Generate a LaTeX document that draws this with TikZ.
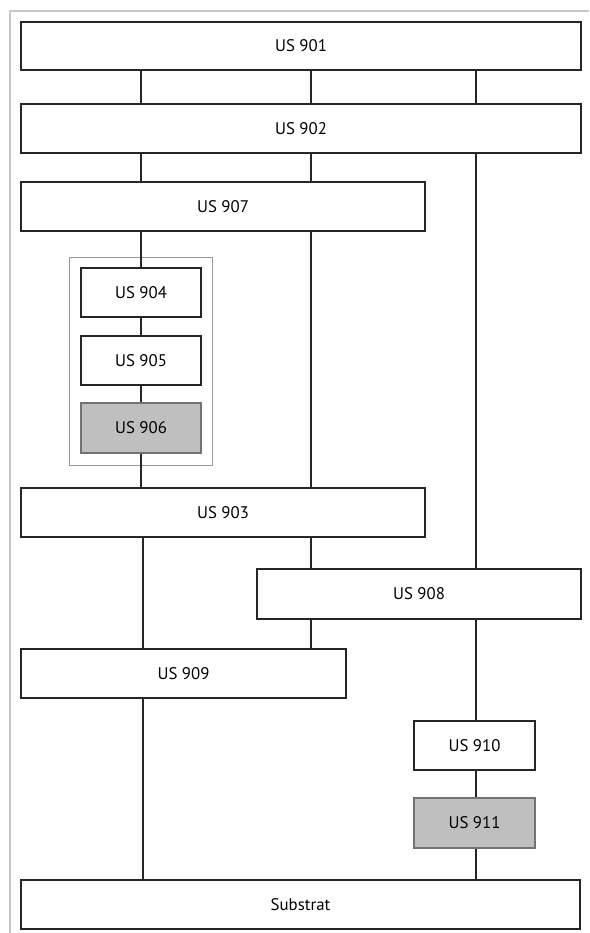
\documentclass[tikz,border=0pt]{standalone}
\usepackage{fontspec}
\setmainfont{PT Sans}
\begin{document}
\begin{tikzpicture}[x=1pt,y=-1pt,
  box/.style={draw=black!85, line width=1.3pt, fill=white, inner sep=0pt, font=\fontsize{16.8}{18}\selectfont},
  graybox/.style={box, draw=black!55, fill=black!25},
  groupbox/.style={draw=black!40, line width=1pt, inner sep=0pt},
  link/.style={draw=black!85, line width=1.2pt},
  frame/.style={draw=black!22, line width=2pt}]
\useasboundingbox (0,0) rectangle (589,933);
% frame lines
\coordinate (ftl) at (10,11);
\coordinate (ftr) at (589,11);
\coordinate (fbl) at (10,933);
\draw[frame] (ftr) -- (ftl) -- (fbl);
% columns
\coordinate (cA) at (141,0);
\coordinate (cA2) at (143,0);
\coordinate (cB) at (311,0);
\coordinate (cC) at (476,0);
% group box
\node[groupbox, minimum width=143, minimum height=208] (grp) at (140.5,361) {};
% nodes
\node[box, minimum width=560, minimum height=48] (n901) at (301,46) {US 901};
\node[box, minimum width=560, minimum height=49] (n902) at (301,128.5) {US 902};
\node[box, minimum width=404, minimum height=49] (n907) at (223,206.5) {US 907};
\node[box, minimum width=120, minimum height=49] (n904) at (141,292.5) {US 904};
\node[box, minimum width=120, minimum height=49] (n905) at (141,360.5) {US 905};
\node[graybox, minimum width=120, minimum height=50] (n906) at (141,428) {US 906};
\node[box, minimum width=404, minimum height=49] (n903) at (223,512.5) {US 903};
\node[box, minimum width=324, minimum height=50] (n908) at (419,594) {US 908};
\node[box, minimum width=325, minimum height=49] (n909) at (183.5,673.5) {US 909};
\node[box, minimum width=121, minimum height=49] (n910) at (474.5,745.5) {US 910};
\node[graybox, minimum width=121, minimum height=50] (n911) at (474.5,823) {US 911};
\node[box, minimum width=559, minimum height=49] (nsub) at (300.5,904.5) {Substrat};
% connectors
\draw[link] (n901.south -| cA) -- (n902.north -| cA);
\draw[link] (n901.south -| cB) -- (n902.north -| cB);
\draw[link] (n901.south -| cC) -- (n902.north -| cC);
\draw[link] (n902.south -| cA) -- (n907.north -| cA);
\draw[link] (n902.south -| cB) -- (n907.north -| cB);
\draw[link] (n902.south -| cC) -- (n908.north -| cC);
\draw[link] (n907.south -| cA) -- (n904.north -| cA);
\draw[link] (n904.south -| cA) -- (n905.north -| cA);
\draw[link] (n905.south -| cA) -- (n906.north -| cA);
\draw[link] (n906.south -| cA) -- (n903.north -| cA);
\draw[link] (n907.south -| cB) -- (n903.north -| cB);
\draw[link] (n903.south -| cA2) -- (n909.north -| cA2);
\draw[link] (n903.south -| cB) -- (n908.north -| cB);
\draw[link] (n908.south -| cB) -- (n909.north -| cB);
\draw[link] (n908.south -| cC) -- (n910.north -| cC);
\draw[link] (n910.south -| cC) -- (n911.north -| cC);
\draw[link] (n911.south -| cC) -- (nsub.north -| cC);
\draw[link] (n909.south -| cA2) -- (nsub.north -| cA2);
\end{tikzpicture}
\end{document}
